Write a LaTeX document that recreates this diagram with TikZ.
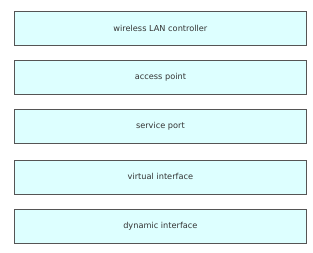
\documentclass[tikz,border=0pt]{standalone}
\usepackage{fontspec}
\setmainfont{DejaVu Sans}
\definecolor{boxfill}{HTML}{DDFFFF}
\definecolor{boxline}{HTML}{555555}
\definecolor{txt}{HTML}{333333}
\begin{document}
\begin{tikzpicture}[x=1bp,y=-1bp,
  optbox/.style={draw=boxline, line width=0.8bp, fill=boxfill, minimum width=292bp, minimum height=34bp, inner sep=0pt, anchor=north west, text=txt, font=\fontsize{8.2bp}{10bp}\selectfont}]
\useasboundingbox[fill=white] (0,0) rectangle (313,253);
\node[optbox] (b1) at (14,11) {wireless LAN controller};
\node[optbox] (b2) at (14,59.5) {access point};
\node[optbox] (b3) at (14,109) {service port};
\node[optbox] (b4) at (14,159.5) {virtual interface};
\node[optbox] (b5) at (14,209) {dynamic interface};
\end{tikzpicture}
\end{document}
